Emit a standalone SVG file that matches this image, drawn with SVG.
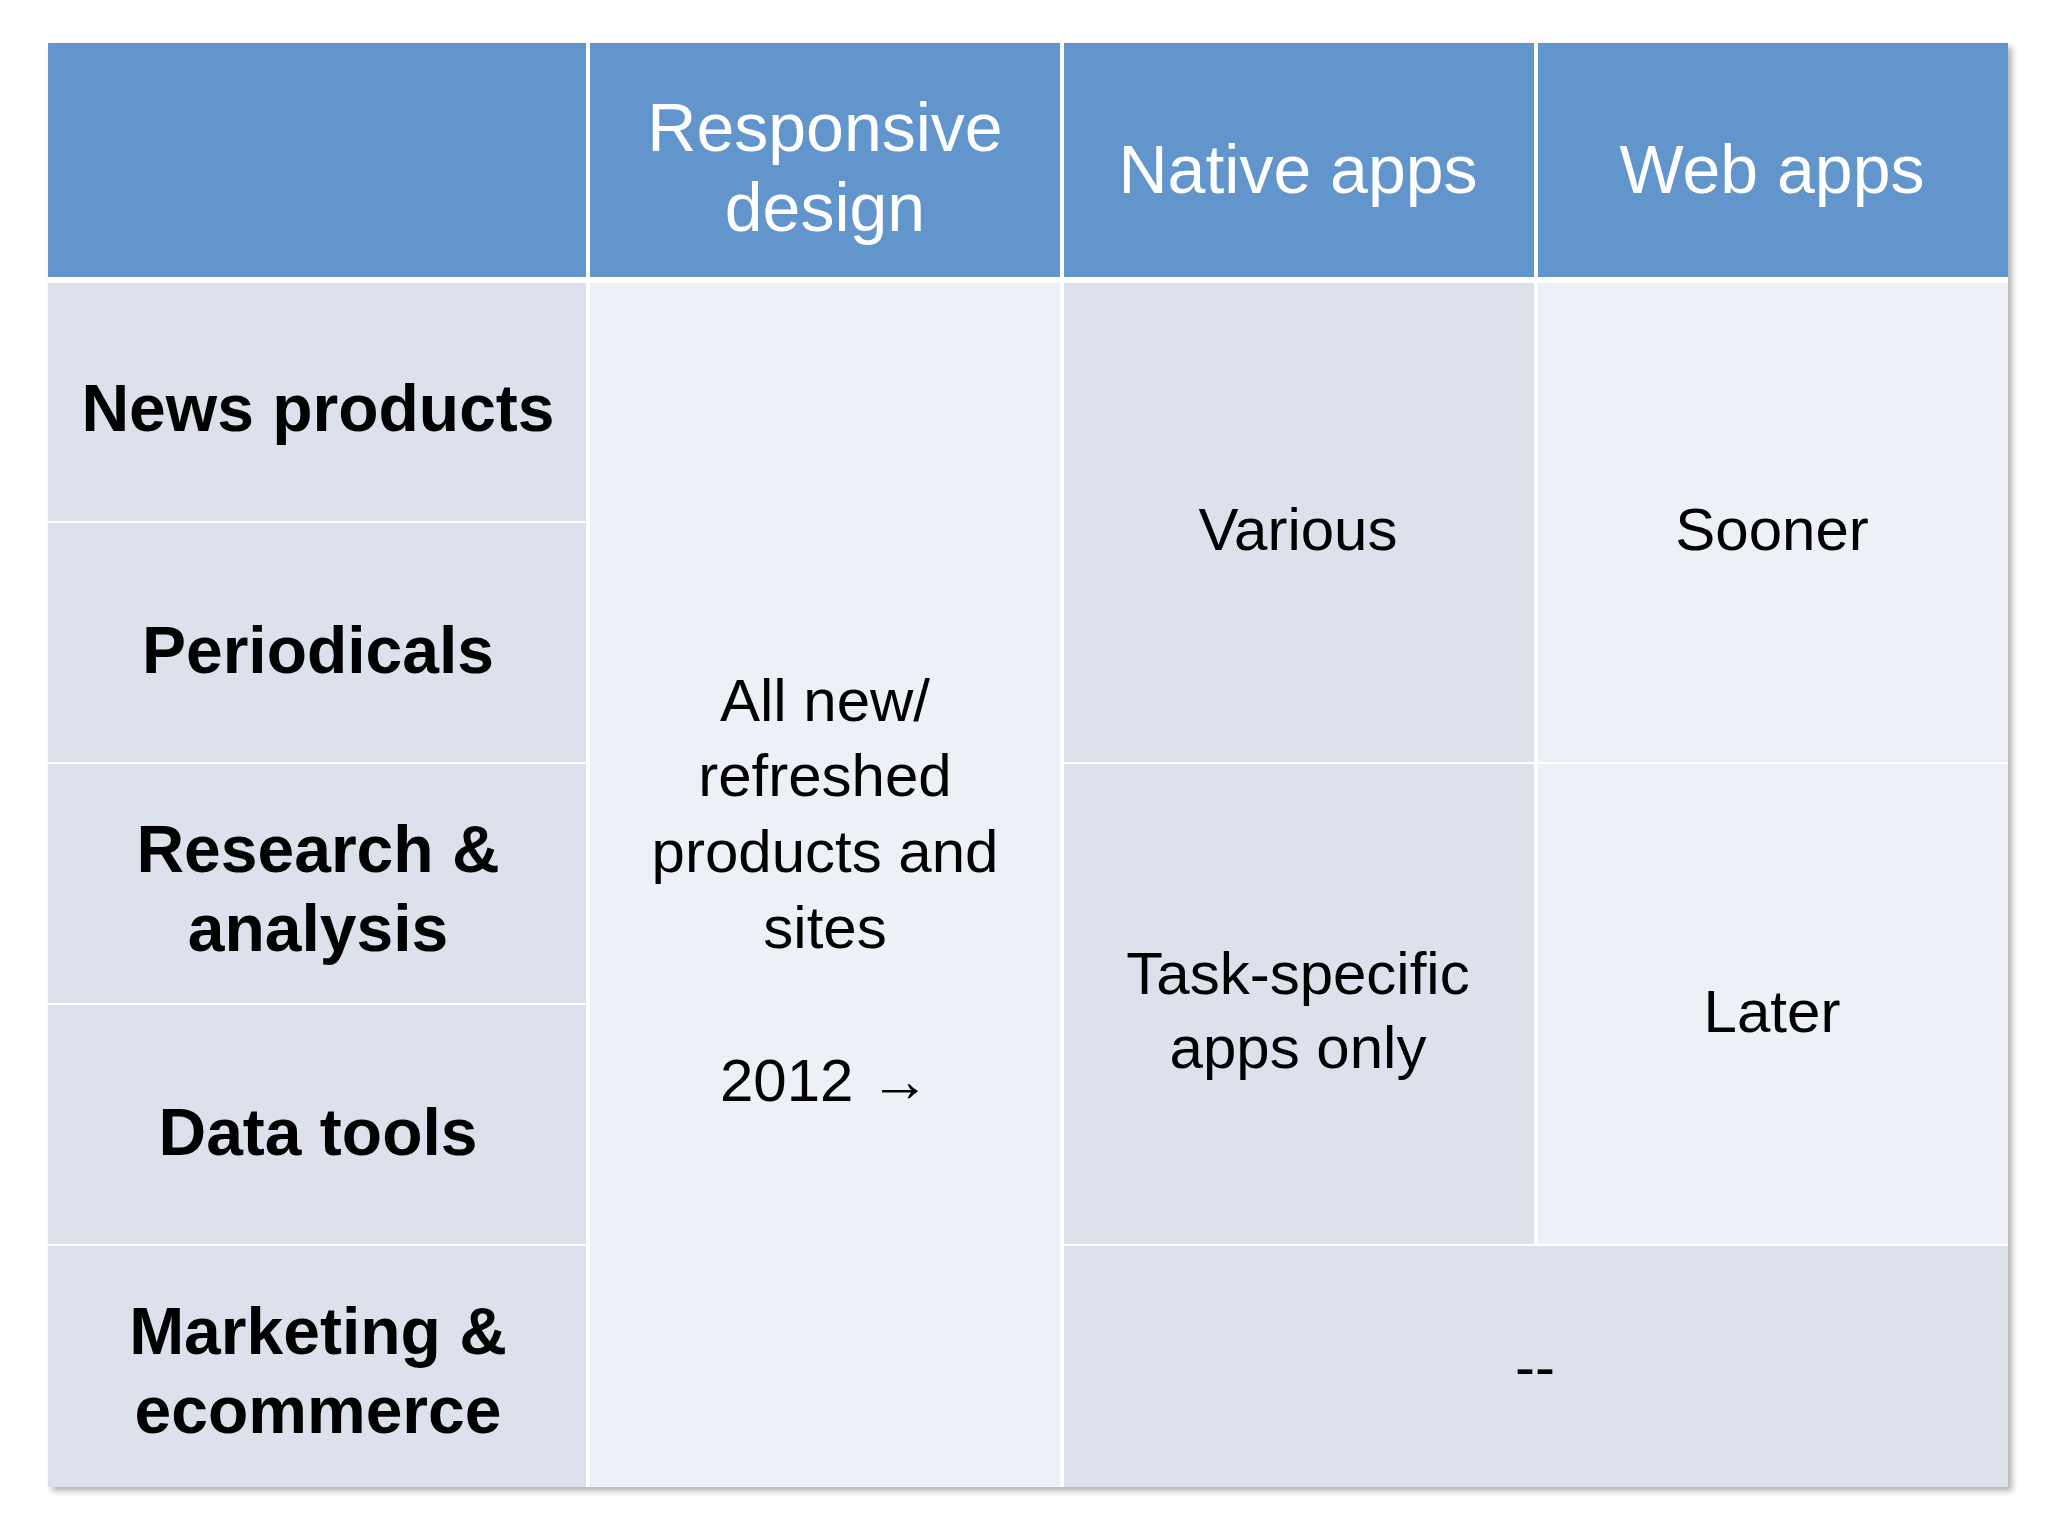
<svg xmlns="http://www.w3.org/2000/svg" width="2048" height="1536" viewBox="0 0 2048 1536">
<defs><style>
.h{fill:#6195cb}.d{fill:#dce1ec}.l{fill:#eef0f8}
text{font-family:"Liberation Sans",Arial,sans-serif;text-anchor:middle}
.ht{fill:#fff;font-size:68px}.rt{fill:#000;font-size:66px;font-weight:bold}.bt{fill:#000;font-size:60px}
</style>
<filter id="sh" x="-5%" y="-5%" width="110%" height="110%"><feDropShadow dx="4" dy="4" stdDeviation="3" flood-color="#000" flood-opacity="0.3"/></filter></defs>
<rect width="2048" height="1536" fill="#fff"/>
<rect x="48" y="43" width="1960" height="1444" fill="#fff" filter="url(#sh)"/>
<g id="header">
<rect class="h" x="48" y="43" width="538" height="234"/>
<rect class="h" x="590" y="43" width="470" height="234"/>
<rect class="h" x="1064" y="43" width="470" height="234"/>
<rect class="h" x="1538" y="43" width="470" height="234"/>
<text class="ht" x="825" y="151">Responsive</text><text class="ht" x="825" y="231">design</text>
<text class="ht" x="1298" y="193">Native apps</text>
<text class="ht" x="1772" y="193">Web apps</text>
</g>
<g id="rows">
<rect class="d" x="48" y="283" width="538" height="238"/>
<rect class="d" x="48" y="523" width="538" height="239"/>
<rect class="d" x="48" y="764" width="538" height="239"/>
<rect class="d" x="48" y="1005" width="538" height="239"/>
<rect class="d" x="48" y="1246" width="538" height="241"/>
<text class="rt" x="318" y="431">News products</text>
<text class="rt" x="318" y="673">Periodicals</text>
<text class="rt" x="318" y="872">Research &amp;</text><text class="rt" x="318" y="951">analysis</text>
<text class="rt" x="318" y="1155">Data tools</text>
<text class="rt" x="318" y="1354">Marketing &amp;</text><text class="rt" x="318" y="1433">ecommerce</text>
</g>
<g id="responsive">
<rect class="l" x="590" y="283" width="470" height="1204"/>
<text class="bt" x="825" y="721">All new/</text><text class="bt" x="825" y="796">refreshed</text>
<text class="bt" x="825" y="872">products and</text><text class="bt" x="825" y="948">sites</text>
<text class="bt" x="825" y="1101">2012 →</text>
</g>
<g id="native">
<rect class="d" x="1064" y="283" width="470" height="479"/>
<rect class="d" x="1064" y="764" width="470" height="480"/>
<text class="bt" x="1298" y="550">Various</text>
<text class="bt" x="1298" y="994">Task-specific</text><text class="bt" x="1298" y="1068">apps only</text>
</g>
<g id="web">
<rect class="l" x="1538" y="283" width="470" height="479"/>
<rect class="l" x="1538" y="764" width="470" height="480"/>
<text class="bt" x="1772" y="550">Sooner</text>
<text class="bt" x="1772" y="1032">Later</text>
</g>
<g id="bottom">
<rect class="d" x="1064" y="1246" width="944" height="241"/>
<text class="bt" x="1535" y="1387">--</text>
</g>
</svg>
